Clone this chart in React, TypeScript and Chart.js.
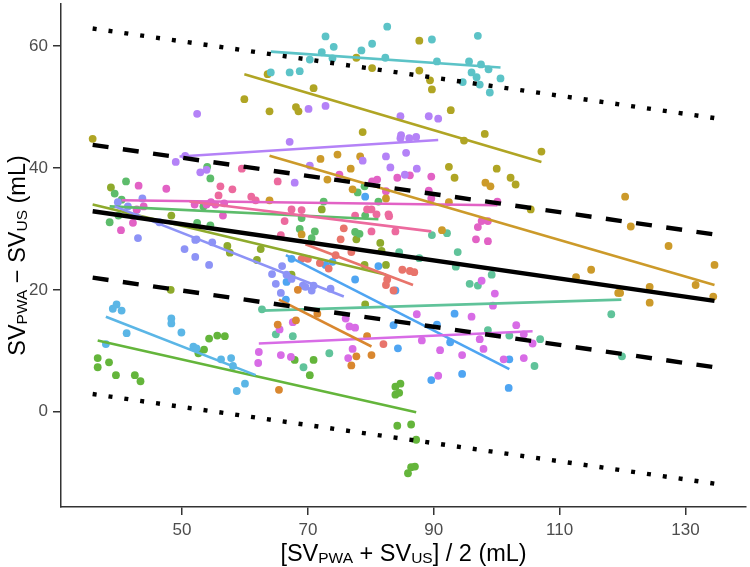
import React, { useEffect, useRef } from 'react';
import { Chart, registerables } from 'chart.js';

Chart.register(...registerables);

type Pt = [number, number];
type Seg = [number, number, number, number];

const FONT = '"Liberation Sans", Arial, Helvetica, sans-serif';

// Axis settings
const xTicks = [50, 70, 90, 110, 130];
const yTicks = [0, 20, 40, 60];
const xMin = 30.77;
const xMax = 139.62;
const yMin = -15.64;
const yMax = 66.94;

// Pooled bias (solid), limits of agreement (dashed) and outer bounds (dotted)
const refX: [number, number] = [35.8, 134.6];
const biasY: [number, number] = [32.9, 18.2];
const loaUpperY: [number, number] = [43.8, 29.1];
const loaLowerY: [number, number] = [22.0, 7.3];
const outerUpperY: [number, number] = [62.9, 48.2];
const outerLowerY: [number, number] = [2.9, -11.8];

// Per-subject colours
const subjectColors = [
  '#5CC3C7', '#B0A524', '#B482F7', '#CC9A2A', '#D9872F', '#E8746B', '#EC6A9E', '#E262C5',
  '#D86CE6', '#8D93F6', '#4FA5F2', '#5BB6E6', '#64B53B', '#5DBC6B', '#8EAA2C', '#60C39A',
];

// Per-subject measurements: [mean of methods, difference]
const s01: Pt[] = [[64.1, 55.7], [67.1, 55.7], [68.7, 55.9], [70.3, 57.8], [72.2, 59.0], [72.8, 61.6], [74.1, 59.9], [73.9, 58.0], [78.5, 59.3], [80.2, 60.4], [82.3, 58.1], [82.6, 63.2], [89.7, 61.1], [90.5, 57.5], [94.6, 54.1], [95.6, 57.5], [96.0, 55.7], [96.8, 54.9], [97.0, 61.7], [97.5, 57.0], [97.3, 53.7], [98.7, 56.2], [98.9, 52.4], [100.6, 54.7]];
const s02: Pt[] = [[35.8, 44.8], [59.9, 51.3], [63.6, 55.4], [63.9, 49.3], [68.1, 50.0], [68.5, 49.3], [70.9, 53.1], [77.7, 58.1], [78.7, 45.9], [80.2, 56.4], [87.7, 60.9], [87.7, 56.0], [89.4, 54.4], [89.7, 52.9], [92.7, 49.5], [94.8, 44.5], [98.1, 45.6], [92.4, 40.2], [93.3, 38.4], [100.0, 39.9], [102.2, 38.4], [103.0, 37.3], [107.1, 42.7], [105.4, 33.2]];
const s03: Pt[] = [[52.4, 48.9], [49.0, 41.0], [50.5, 42.0], [52.9, 39.3], [53.9, 39.7], [70.1, 49.7], [72.8, 50.2], [84.7, 48.5], [89.2, 48.5], [90.7, 48.1], [67.1, 44.3], [84.7, 44.9], [84.8, 45.4], [86.1, 44.9], [87.2, 45.1], [85.6, 42.5], [82.4, 41.9], [83.1, 40.1], [78.7, 41.2], [87.3, 39.9], [85.4, 38.9], [70.3, 40.4], [67.9, 37.6]];
const s04: Pt[] = [[72.0, 41.5], [74.7, 42.2], [78.3, 41.9], [76.8, 39.9], [73.1, 38.1], [77.1, 36.5], [82.4, 35.0], [98.2, 37.6], [99.0, 37.0], [91.3, 29.8], [69.0, 29.1], [63.9, 34.7], [92.4, 34.4], [121.3, 30.4], [127.3, 27.2], [134.6, 24.1], [112.6, 22.1], [115.0, 23.3], [119.3, 19.5], [119.6, 19.5], [124.3, 20.5], [124.3, 17.9], [131.6, 20.8], [134.4, 18.9], [120.4, 35.3]];
const s05: Pt[] = [[68.4, 20.0], [65.2, 14.3], [68.1, 15.0], [71.5, 16.1], [79.4, 12.4], [77.7, 9.1], [80.1, 9.3], [76.9, 7.6], [65.4, 3.6]];
const s06: Pt[] = [[75.7, 30.1], [75.2, 28.3], [74.4, 25.7], [76.9, 26.2], [71.9, 24.4], [73.3, 23.5], [69.0, 25.1], [70.0, 25.1], [82.6, 21.7], [82.4, 20.8], [83.6, 19.9], [85.0, 23.3], [86.2, 23.1], [86.9, 22.9], [82.0, 11.1]];
const s07: Pt[] = [[56.1, 37.0], [55.8, 35.5], [58.0, 36.5], [59.5, 39.9], [61.0, 35.3], [61.7, 34.7], [65.2, 37.8], [66.3, 31.3], [65.7, 29.0], [67.4, 33.2], [69.0, 33.1], [77.5, 32.2], [79.4, 33.2], [80.1, 33.2], [80.9, 32.4], [82.8, 32.4], [82.9, 32.1], [83.9, 29.6], [80.1, 29.6]];
const s08: Pt[] = [[43.1, 37.1], [47.5, 36.6], [42.8, 33.2], [43.9, 33.7], [40.3, 29.8], [42.2, 31.0], [52.0, 34.0], [53.9, 34.0], [54.6, 34.4], [55.3, 34.0], [56.7, 34.2], [56.5, 32.2], [75.0, 38.9], [80.2, 37.8], [81.0, 38.1], [84.2, 38.4], [86.2, 38.8], [89.6, 38.6], [89.2, 36.3], [89.6, 35.0], [82.4, 36.2], [100.1, 34.5], [97.6, 31.3], [98.6, 31.3], [97.0, 30.3], [96.7, 28.3], [98.6, 28.0]];
const s09: Pt[] = [[67.6, 14.7], [65.5, 13.5], [62.2, 9.8], [62.1, 8.0], [65.7, 9.3], [67.3, 9.0], [77.1, 10.3], [76.4, 8.8], [76.0, 15.3], [76.6, 14.0], [77.5, 13.8], [87.3, 16.0], [88.1, 11.7], [91.0, 10.1], [90.7, 5.9], [94.5, 9.3], [96.0, 15.6], [97.3, 11.9], [97.9, 10.3], [97.6, 21.5], [103.1, 14.2], [104.3, 12.7], [105.7, 11.2], [104.3, 8.8], [101.1, 8.6], [99.7, 19.4], [99.4, 17.4]];
const s10: Pt[] = [[39.8, 34.4], [43.7, 35.0], [41.4, 33.7], [42.8, 33.1], [43.0, 28.5], [46.4, 31.1], [52.3, 28.3], [50.4, 26.7], [54.8, 27.8], [52.1, 25.4], [54.3, 24.1], [52.1, 28.2], [65.9, 23.9], [64.3, 22.6], [64.9, 21.0], [65.7, 19.5], [66.6, 22.5], [69.2, 20.7], [69.6, 20.5], [70.6, 19.9], [70.9, 20.7], [73.6, 20.2], [67.4, 21.8]];
const s11: Pt[] = [[67.4, 25.1], [72.8, 24.1], [73.9, 24.6], [81.2, 23.9], [77.5, 21.7], [83.9, 19.9], [66.5, 18.4], [66.6, 21.3], [83.6, 14.2], [84.3, 10.4], [90.5, 14.3], [92.6, 11.4], [93.3, 16.1], [89.6, 5.2], [94.5, 6.2], [79.1, 35.3], [102.0, 8.6], [101.9, 3.9]];
const s12: Pt[] = [[39.0, 16.9], [39.6, 17.6], [40.4, 16.6], [37.9, 11.1], [41.2, 12.9], [48.3, 15.3], [48.3, 14.5], [49.9, 13.0], [51.8, 10.7], [52.3, 10.4], [56.2, 8.6], [57.8, 8.8], [58.1, 7.5], [58.7, 3.4], [60.0, 4.6]];
const s13: Pt[] = [[36.6, 8.8], [36.6, 7.3], [38.4, 8.1], [39.5, 6.0], [42.5, 6.0], [43.4, 5.0], [54.3, 12.0], [55.6, 12.5], [56.8, 12.4], [52.6, 9.6], [53.5, 10.2], [83.9, 4.1], [84.7, 4.6], [83.9, 2.8], [84.5, 3.1], [84.2, -2.3], [86.4, -2.1], [87.2, -4.6], [85.9, -10.1], [86.4, -9.1], [87.0, -9.0], [70.3, 6.0], [67.9, 8.5], [70.9, 8.5]];
const s14: Pt[] = [[39.3, 35.8], [41.1, 37.8], [40.4, 34.8], [38.5, 31.1], [39.9, 32.2], [54.0, 40.2], [54.5, 38.3], [53.4, 33.7], [52.4, 31.0], [54.5, 30.6], [69.0, 31.8], [68.7, 30.0], [71.1, 29.6], [70.6, 28.5], [77.5, 29.5], [78.2, 29.2], [79.1, 32.2], [79.0, 37.0], [77.9, 36.0], [72.5, 34.5], [81.2, 34.5]];
const s15: Pt[] = [[38.7, 36.8], [48.3, 32.2], [48.2, 20.0], [57.2, 27.2], [57.6, 26.1], [61.9, 24.9], [62.5, 26.7], [72.2, 33.2], [67.4, 22.5], [77.7, 28.3], [81.5, 27.7], [82.4, 24.1], [79.0, 24.1], [79.1, 17.6], [81.7, 26.4]];
const s16: Pt[] = [[89.7, 29.0], [92.1, 29.3], [93.8, 26.2], [84.5, 26.2], [87.7, 25.2], [93.5, 23.8], [95.7, 21.0], [97.0, 20.7], [99.2, 22.5], [62.7, 16.8], [64.9, 12.7], [67.6, 12.4], [69.3, 7.3], [73.4, 9.6], [98.6, 13.4], [118.2, 16.0], [119.9, 9.1], [106.0, 7.5], [106.9, 11.9], [102.0, 12.5]];

const subjectPoints = [s01, s02, s03, s04, s05, s06, s07, s08, s09, s10, s11, s12, s13, s14, s15, s16];

// Per-subject regression lines: [x start, y start, x end, y end]
const subjectFits: Seg[] = [
  [64.1, 59.1, 100.6, 56.5],
  [59.9, 55.4, 107.1, 41.0],
  [49.6, 41.9, 90.7, 44.6],
  [63.9, 42.0, 134.6, 20.8],
  [65.4, 18.4, 80.1, 10.7],
  [69.6, 27.5, 86.7, 20.8],
  [51.2, 34.5, 89.6, 29.6],
  [40.4, 34.7, 100.1, 33.9],
  [62.2, 11.2, 105.7, 13.2],
  [39.3, 33.7, 75.7, 18.9],
  [66.5, 25.7, 102.0, 7.0],
  [37.9, 15.6, 61.7, 6.0],
  [36.6, 11.7, 87.2, -0.1],
  [38.5, 33.7, 81.2, 31.6],
  [35.8, 34.0, 82.4, 22.5],
  [62.7, 16.6, 119.8, 18.4],
];

type Piece = { t: string; sub?: boolean };
const xTitle: Piece[] = [
  { t: '[SV' }, { t: 'PWA', sub: true }, { t: ' + SV' }, { t: 'US', sub: true }, { t: '] / 2 (mL)' },
];
const yTitle: Piece[] = [
  { t: 'SV' }, { t: 'PWA', sub: true }, { t: ' \u2212 SV' }, { t: 'US', sub: true }, { t: ' (mL)' },
];

const MAIN_SIZE = 23.5;
const SUB_SIZE = 15.5;

function drawRich(ctx: CanvasRenderingContext2D, pieces: Piece[], cx: number, baseY: number) {
  const fontFor = (p: Piece) => `${p.sub ? SUB_SIZE : MAIN_SIZE}px ${FONT}`;
  let total = 0;
  const widths = pieces.map((p) => {
    ctx.font = fontFor(p);
    const w = ctx.measureText(p.t).width;
    total += w;
    return w;
  });
  let x = cx - total / 2;
  ctx.fillStyle = '#000000';
  ctx.textAlign = 'left';
  ctx.textBaseline = 'alphabetic';
  pieces.forEach((p, i) => {
    ctx.font = fontFor(p);
    ctx.fillText(p.t, x, p.sub ? baseY + 2 : baseY);
    x += widths[i];
  });
}

const axisTitles = {
  id: 'axisTitles',
  afterDraw(chart: any) {
    const { ctx, chartArea } = chart;
    ctx.save();
    drawRich(ctx, xTitle, (chartArea.left + chartArea.right) / 2, 561);
    ctx.restore();
    ctx.save();
    ctx.translate(25, (chartArea.top + chartArea.bottom) / 2);
    ctx.rotate(-Math.PI / 2);
    drawRich(ctx, yTitle, 0, 0);
    ctx.restore();
  },
};

function segment(x: [number, number], y: [number, number]) {
  return [{ x: x[0], y: y[0] }, { x: x[1], y: y[1] }];
}

export default function App() {
  const canvasRef = useRef<HTMLCanvasElement | null>(null);

  useEffect(() => {
    const canvas = canvasRef.current;
    if (!canvas) return;

    const refLine = (y: [number, number], dash: number[]) => ({
      type: 'scatter' as const,
      data: segment(refX, y),
      showLine: true,
      borderColor: '#000000',
      borderWidth: 4.4,
      borderDash: dash,
      borderCapStyle: 'butt' as const,
      pointRadius: 0,
      order: 0,
    });

    const datasets: any[] = [
      refLine(biasY, []),
      refLine(loaUpperY, [16, 14.5]),
      refLine(loaLowerY, [16, 14.5]),
      refLine(outerUpperY, [4, 12]),
      refLine(outerLowerY, [4, 12]),
    ];

    subjectFits.forEach((f, i) => {
      datasets.push({
        type: 'scatter',
        data: [{ x: f[0], y: f[1] }, { x: f[2], y: f[3] }],
        showLine: true,
        borderColor: subjectColors[i],
        borderWidth: 2.6,
        pointRadius: 0,
        order: 1,
      });
    });

    subjectPoints.forEach((pts, i) => {
      datasets.push({
        type: 'scatter',
        data: pts.map(([x, y]) => ({ x, y })),
        backgroundColor: subjectColors[i],
        borderWidth: 0,
        pointRadius: 3.9,
        pointHoverRadius: 3.9,
        showLine: false,
        order: 2,
      });
    });

    const chart = new Chart(canvas, {
      type: 'scatter',
      data: { datasets },
      options: {
        responsive: false,
        animation: false,
        events: [],
        layout: { padding: 0 },
        plugins: { legend: { display: false }, tooltip: { enabled: false } },
        scales: {
          x: {
            type: 'linear',
            position: 'bottom',
            min: xMin,
            max: xMax,
            afterBuildTicks: (s: any) => {
              s.ticks = xTicks.map((value) => ({ value }));
            },
            afterFit: (s: any) => {
              s.height = 60;
              s.paddingLeft = 0;
              s.paddingRight = 0;
            },
            grid: { display: true, drawOnChartArea: false, drawTicks: true, tickLength: 8, color: '#333333', lineWidth: 1.5 },
            border: { display: true, color: '#333333', width: 1.5 },
            ticks: { color: '#4D4D4D', font: { size: 17, family: FONT }, padding: 5, autoSkip: false, maxRotation: 0 },
          },
          y: {
            type: 'linear',
            position: 'left',
            min: yMin,
            max: yMax,
            afterBuildTicks: (s: any) => {
              s.ticks = yTicks.map((value) => ({ value }));
            },
            afterFit: (s: any) => {
              s.width = 61;
              s.paddingTop = 0;
              s.paddingBottom = 0;
            },
            grid: { display: true, drawOnChartArea: false, drawTicks: true, tickLength: 8, color: '#333333', lineWidth: 1.5 },
            border: { display: true, color: '#333333', width: 1.5 },
            ticks: { color: '#4D4D4D', font: { size: 17, family: FONT }, padding: 5, autoSkip: false },
          },
        },
      },
      plugins: [axisTitles],
    });

    return () => chart.destroy();
  }, []);

  return (
    <div style={{ position: 'fixed', left: 0, top: 0, width: 750, height: 567, background: '#ffffff' }}>
      <canvas ref={canvasRef} width={750} height={567} style={{ display: 'block' }} />
    </div>
  );
}
